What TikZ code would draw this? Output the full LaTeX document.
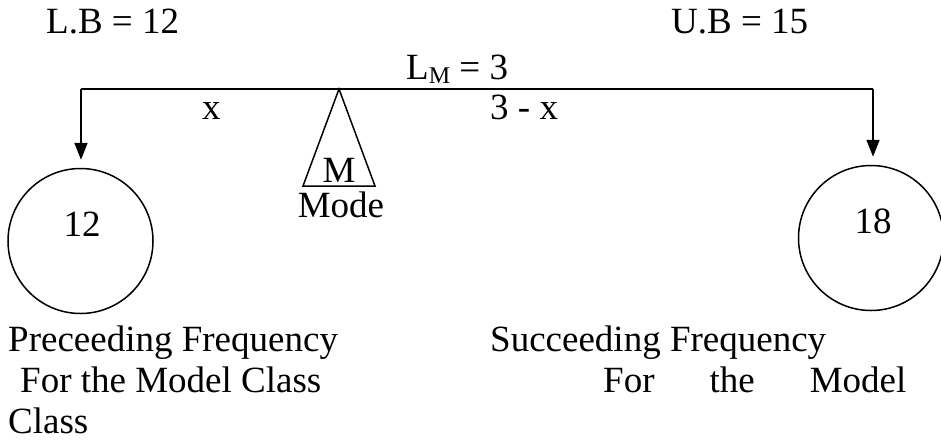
\documentclass[tikz,border=0pt]{standalone}
\usepackage{fontspec}
\setmainfont{Liberation Serif}
\usetikzlibrary{arrows.meta}
\begin{document}
\begin{tikzpicture}[x=1pt,y=1pt,
  txt/.style={inner sep=0pt,anchor=base west,font=\fontsize{37}{41}\selectfont},
  ctxt/.style={inner sep=0pt,anchor=base,font=\fontsize{37}{41}\selectfont},
  ln/.style={line width=1.8pt},
  arr/.style={line width=1.8pt,-{Triangle[width=13pt,length=17pt]},shorten >=8pt},
  freq/.style={circle,draw,line width=1.5pt,minimum size=145pt,inner sep=0pt}]
\useasboundingbox (0,0) rectangle (941,-440);
% top labels
\node[txt] (lb) at (46,-33) {L.B = 12};
\node[txt] (ub) at (671,-33) {U.B = 15};
\node[txt] (lm) at (406,-79) {L\raisebox{-4pt}{\fontsize{24}{24}\selectfont M} = 3};
% main bar
\coordinate (tl) at (81,-89);
\coordinate (tr) at (873,-89);
\draw[ln] (tl) -- (tr);
\node[txt] (x1) at (202,-119) {x};
\node[txt] (x2) at (490,-119) {3 - x};
% circles
\node[freq] (c1) at (80.5,-241) {};
\node[freq] (c2) at (871,-238) {};
\node[ctxt] (n1) at (82,-236) {12};
\node[ctxt] (n2) at (873,-233) {18};
\draw[arr] (tl) -- (c1.north -| tl);
\draw[arr] (tr) -- (c2.north -| tr);
% mode triangle
\coordinate (apex) at (339,-89);
\coordinate (bl) at (303,-186);
\coordinate (br) at (375,-186);
\draw[line width=1.5pt,line join=miter] (apex) -- (bl) -- (br) -- cycle;
\node[ctxt] (m) at (339,-182) {M};
\node[ctxt] (mode) at (341,-217) {Mode};
% bottom texts
\node[txt] (p1) at (8,-351) {Preceeding Frequency};
\node[txt] (p2) at (20,-392) {For the Model Class};
\node[txt] (p3) at (8,-433) {Class};
\node[txt] (s1) at (490,-351) {Succeeding Frequency};
\node[txt] (s2) at (603,-392) {For\hspace{55pt}the\hspace{55pt}Model};
\end{tikzpicture}
\end{document}
